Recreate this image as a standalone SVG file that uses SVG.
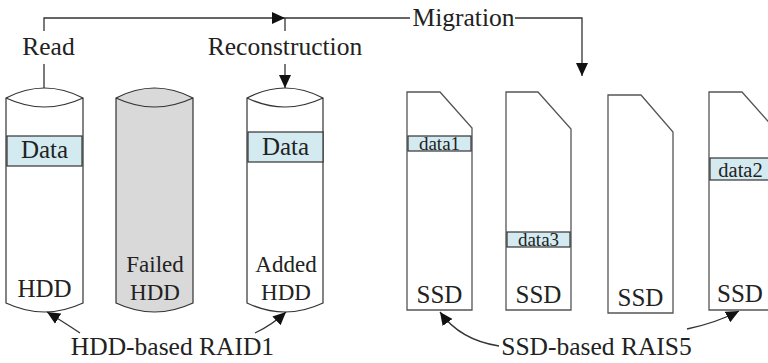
<svg xmlns="http://www.w3.org/2000/svg" width="768" height="363" viewBox="0 0 768 363">
  <style>
    text { font-family: "Liberation Serif", "Times New Roman", serif; fill: #222; text-anchor: middle; }
    .lbl { font-size: 25.5px; }
    .in { font-size: 23px; }
    .big { font-size: 25px; }
    .small { font-size: 19px; }
    .disk { fill: #fff; stroke: #333; stroke-width: 1.2; }
    .failed { fill: #d9d9d9; }
    .cap { fill: none; stroke: #333; stroke-width: 1.2; }
    .ssd { fill: #fff; stroke: #555; stroke-width: 1.3; }
    .data { fill: #d3ebf0; stroke: #333; stroke-width: 1.2; }
    .wire { fill: none; stroke: #333; stroke-width: 1.3; }
  </style>
  <defs>
    <marker id="arrow" markerUnits="userSpaceOnUse" markerWidth="14" markerHeight="13" refX="13" refY="6" orient="auto">
      <path d="M0,0 L13,6 L0,12 Z" fill="#111"/>
    </marker>
  </defs>

  <rect width="768" height="363" fill="#fff"/>

  <!-- HDD RAID1 members -->
  <g id="hdd">
    <path class="disk" d="M6,98 Q44.5,78 83,98 V303 Q44.5,321 6,303 Z"/>
    <path class="cap" d="M6,98 Q44.5,116 83,98"/>
    <rect class="data" x="7" y="136" width="75" height="30"/>
    <text class="big" x="44.5" y="158">Data</text>
    <text class="big" x="44.5" y="297">HDD</text>
  </g>
  <g id="failed-hdd">
    <path class="disk failed" d="M116,98 Q154.5,78 193,98 V303 Q154.5,321 116,303 Z"/>
    <path class="cap" d="M116,98 Q154.5,116 193,98"/>
    <text class="in" x="155" y="272">Failed</text>
    <text class="in" x="155" y="300">HDD</text>
  </g>
  <g id="added-hdd">
    <path class="disk" d="M247,98 Q285,78 323,98 V303 Q285,321 247,303 Z"/>
    <path class="cap" d="M247,98 Q285,116 323,98"/>
    <rect class="data" x="248" y="132" width="75" height="30"/>
    <text class="big" x="285.5" y="155">Data</text>
    <text class="in" x="286" y="272">Added</text>
    <text class="in" x="286" y="300">HDD</text>
  </g>

  <!-- SSD RAIS5 members -->
  <g id="ssd1">
    <path class="ssd" d="M407,92 H440 L472,128 V310 H407 Z"/>
    <rect class="data" x="408" y="136" width="63" height="15"/>
    <text class="small" x="439.5" y="150">data1</text>
    <text class="big" x="439.5" y="303">SSD</text>
  </g>
  <g id="ssd2">
    <path class="ssd" d="M506,92 H538 L571,129 V310 H506 Z"/>
    <rect class="data" x="507" y="232" width="63" height="15"/>
    <text class="small" x="538.5" y="246">data3</text>
    <text class="big" x="538.5" y="303">SSD</text>
  </g>
  <g id="ssd3">
    <path class="ssd" d="M608,95 H641 L673,132 V313 H608 Z"/>
    <text class="big" x="640.5" y="306">SSD</text>
  </g>
  <g id="ssd4">
    <path class="ssd" d="M709,92 H742 L774,128 V310 H709 Z"/>
    <rect class="data" x="710" y="158" width="64" height="22"/>
    <text class="small" x="740.5" y="177" style="font-size:20.5px">data2</text>
    <text class="big" x="740" y="302">SSD</text>
  </g>

  <!-- labels -->
  <g id="labels">
    <text class="lbl" x="48.5" y="55">Read</text>
    <text class="lbl" x="285" y="55">Reconstruction</text>
    <text class="lbl" x="463.5" y="26">Migration</text>
    <text class="lbl" x="172.5" y="355">HDD-based RAID1</text>
    <text class="lbl" x="596.5" y="355">SSD-based RAIS5</text>
  </g>

  <!-- connectors -->
  <g id="connectors">
    <path class="wire" d="M44,31 V18 H285" marker-end="url(#arrow)"/>
    <path class="wire" d="M285,18 H410"/>
    <path class="wire" d="M285,18 V31"/>
    <path class="wire" d="M515,18 H582 V76" marker-end="url(#arrow)"/>
    <path class="wire" d="M44,64 V88"/>
    <path class="wire" d="M285,64 V88" marker-end="url(#arrow)"/>
    <path class="wire" d="M80,333 Q62,321 47,312" marker-end="url(#arrow)"/>
    <path class="wire" d="M255,333 Q272,325 286,312" marker-end="url(#arrow)"/>
    <path class="wire" d="M499,346 Q460,340 440,312" marker-end="url(#arrow)"/>
    <path class="wire" d="M687,329 Q716,323 739,311" marker-end="url(#arrow)"/>
  </g>
</svg>
